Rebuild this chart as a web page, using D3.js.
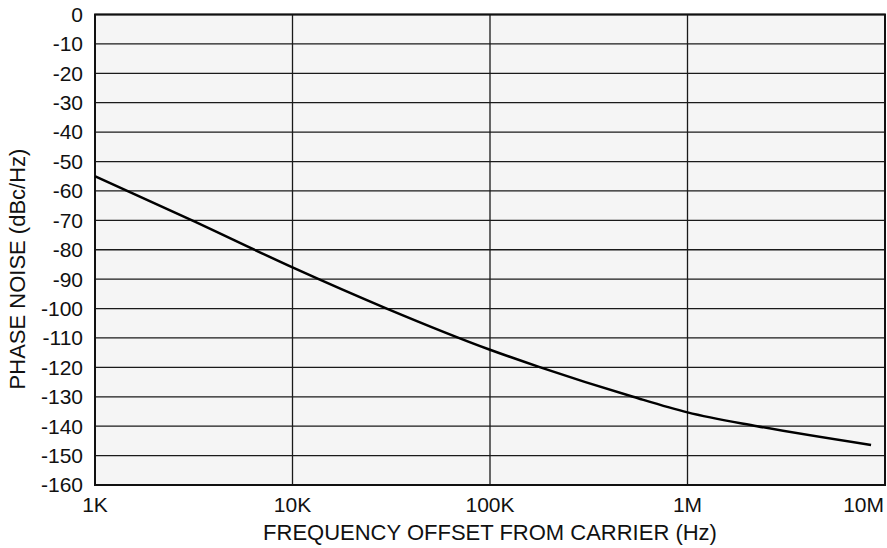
<!DOCTYPE html>
<html>
<head>
<meta charset="utf-8">
<script src="https://cdn.jsdelivr.net/npm/d3@7"></script>
<style>
  body { margin: 0; background: #fff; }
  text { font-family: "Liberation Sans", Arial, sans-serif; fill: #111; }
</style>
</head>
<body>
<div id="chart"></div>
<script>
// phase noise curve
const freqs = [1000, 3100, 10000, 30000, 100000, 180000, 530000, 1000000, 2250000, 8500000];
const noise = [-55, -70, -86, -100, -114, -120, -130, -135.3, -140, -146.4];

const xTicks = [1e3, 1e4, 1e5, 1e6, 1e7];
const xTickLabels = ["1K", "10K", "100K", "1M", "10M"];
const yTicks = d3.range(0, -161, -10);

const width = 887, height = 548;
const margin = { left: 95, right: 2, top: 14.5, bottom: 63 };

const svg = d3.select("#chart").append("svg")
    .attr("width", width)
    .attr("height", height);

const x = d3.scaleLog().domain([1e3, 1e7]).range([margin.left, width - margin.right]);
const y = d3.scaleLinear().domain([-160, 0]).range([height - margin.bottom, margin.top]);

// plot background
svg.append("rect")
    .attr("x", x(1e3)).attr("y", y(0))
    .attr("width", x(1e7) - x(1e3)).attr("height", y(-160) - y(0))
    .attr("fill", "#f5f5f5");

// grid
svg.append("g").selectAll("line")
    .data(yTicks)
    .enter().append("line")
    .attr("x1", x(1e3)).attr("x2", x(1e7))
    .attr("y1", d => y(d)).attr("y2", d => y(d))
    .attr("stroke", "#1a1a1a").attr("stroke-width", 1.3);

svg.append("g").selectAll("line")
    .data(xTicks)
    .enter().append("line")
    .attr("x1", d => x(d)).attr("x2", d => x(d))
    .attr("y1", y(0)).attr("y2", y(-160))
    .attr("stroke", "#1a1a1a").attr("stroke-width", 1.3);

// frame
svg.append("rect")
    .attr("x", x(1e3)).attr("y", y(0))
    .attr("width", x(1e7) - x(1e3)).attr("height", y(-160) - y(0))
    .attr("fill", "none").attr("stroke", "#111").attr("stroke-width", 2);

// curve
const pts = freqs.map((f, i) => [f, noise[i]]);
svg.append("path")
    .datum(pts)
    .attr("fill", "none")
    .attr("stroke", "#000")
    .attr("stroke-width", 2.5)
    .attr("d", d3.line()
        .x(d => x(d[0]))
        .y(d => y(d[1]))
        .curve(d3.curveMonotoneX));

// y tick labels
svg.append("g").selectAll("text")
    .data(yTicks)
    .enter().append("text")
    .attr("x", x(1e3) - 12)
    .attr("y", d => y(d))
    .attr("dy", "0.35em")
    .attr("text-anchor", "end")
    .style("font-size", "21px")
    .text(d => d);

// x tick labels (last one pulled in so it fits)
svg.append("g").selectAll("text")
    .data(xTicks)
    .enter().append("text")
    .attr("x", d => d === 1e7 ? x(d) - 1 : x(d))
    .attr("y", y(-160) + 27)
    .attr("text-anchor", d => d === 1e7 ? "end" : "middle")
    .style("font-size", "21px")
    .text((d, i) => xTickLabels[i]);

// axis titles
svg.append("text")
    .attr("x", (x(1e3) + x(1e7)) / 2)
    .attr("y", 540)
    .attr("text-anchor", "middle")
    .style("font-size", "22px")
    .text("FREQUENCY OFFSET FROM CARRIER (Hz)");

svg.append("text")
    .attr("transform", "translate(25," + 269 + ") rotate(-90)")
    .attr("text-anchor", "middle")
    .style("font-size", "22px")
    .text("PHASE NOISE (dBc/Hz)");
</script>
</body>
</html>
